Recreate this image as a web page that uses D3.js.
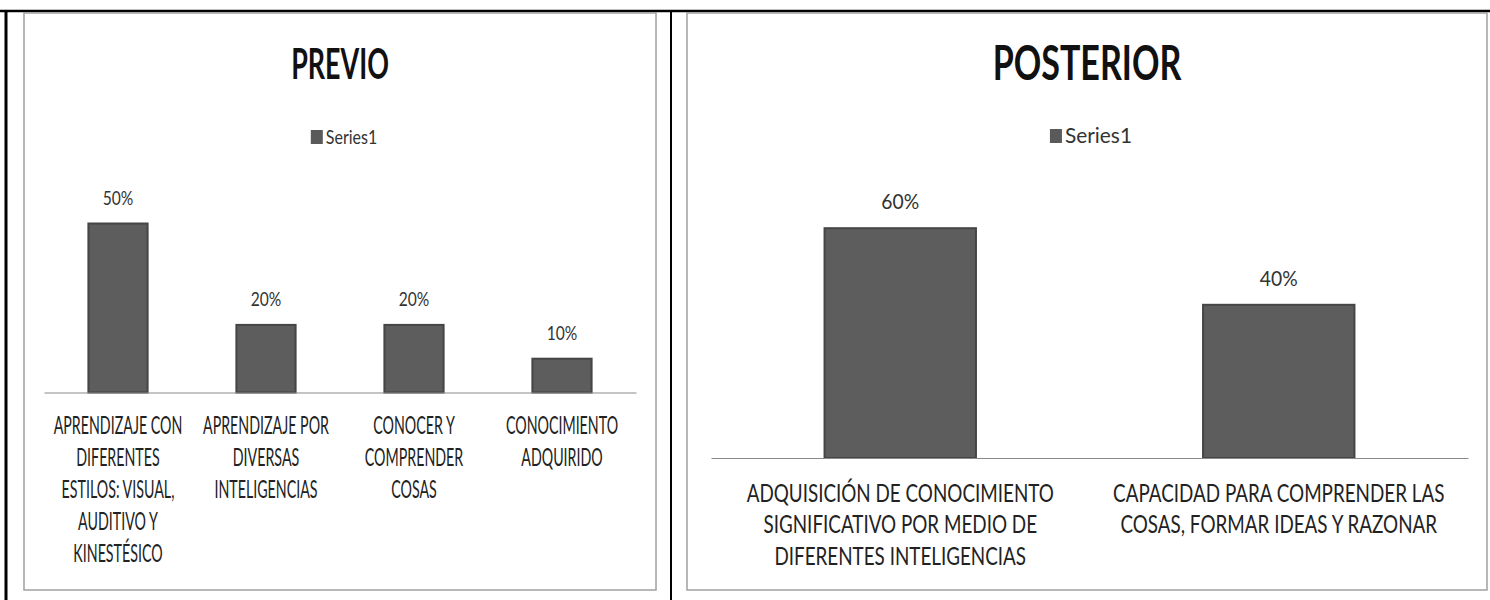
<!DOCTYPE html>
<html>
<head>
<meta charset="utf-8">
<script src="https://cdn.jsdelivr.net/npm/d3@7"></script>
<style>
  body { margin: 0; background: #fff; }
  svg { display: block; font-family: Lato, "Open Sans", sans-serif; }
</style>
</head>
<body>
<svg width="1490" height="600"></svg>
<script>
// data
var prevCategories = [
  "APRENDIZAJE CON DIFERENTES ESTILOS: VISUAL, AUDITIVO Y KINESTÉSICO",
  "APRENDIZAJE POR DIVERSAS INTELIGENCIAS",
  "CONOCER Y COMPRENDER COSAS",
  "CONOCIMIENTO ADQUIRIDO"
];
var prevValues = [0.5, 0.2, 0.2, 0.1];

var postCategories = [
  "ADQUISICIÓN DE CONOCIMIENTO SIGNIFICATIVO POR MEDIO DE DIFERENTES INTELIGENCIAS",
  "CAPACIDAD PARA COMPRENDER LAS COSAS, FORMAR IDEAS Y RAZONAR"
];
var postValues = [0.6, 0.4];

var seriesName = "Series1";

var svg = d3.select("svg");
var pct = d3.format(".0%");

// page frame (black rules of the table the charts sit in)
svg.append("line").attr("x1", 0).attr("x2", 1490).attr("y1", 11).attr("y2", 11)
  .attr("stroke", "#000").attr("stroke-width", 2.5);
svg.append("line").attr("x1", 6).attr("x2", 6).attr("y1", 10).attr("y2", 600)
  .attr("stroke", "#000").attr("stroke-width", 3);
svg.append("line").attr("x1", 671).attr("x2", 671).attr("y1", 10).attr("y2", 600)
  .attr("stroke", "#000").attr("stroke-width", 2);

// the scanned charts are squeezed sideways, hence the x-scales on text
var panels = [
  {
    title: "PREVIO", cats: prevCategories, vals: prevValues,
    box: [24, 13, 632, 577], xRange: [44, 636], base: 392.5, perUnit: 338,
    titleY: 79, titleSize: 42, titleSx: 0.64,
    legendY: 144, legendSize: 20, legendSx: 0.8,
    labelSize: 20, labelSx: 0.78,
    catSize: 25, catSx: 0.57, catY: 41.5, lineH: 32, wrapFrac: 0.92
  },
  {
    title: "POSTERIOR", cats: postCategories, vals: postValues,
    box: [687, 13, 800, 577], xRange: [711, 1468], base: 458, perUnit: 383,
    titleY: 80, titleSize: 47, titleSx: 0.725,
    legendY: 143, legendSize: 22, legendSx: 0.95,
    labelSize: 21, labelSx: 0.92,
    catSize: 26, catSx: 0.725, catY: 44, lineH: 31.5, wrapFrac: 0.92
  }
];

panels.forEach(drawPanel);

function drawPanel(p) {
  var g = svg.append("g");
  var cx = p.box[0] + p.box[2] / 2;

  g.append("rect")
    .attr("x", p.box[0]).attr("y", p.box[1])
    .attr("width", p.box[2]).attr("height", p.box[3])
    .attr("fill", "#fff").attr("stroke", "#a0a0a0").attr("stroke-width", 1.5);

  var x = d3.scaleBand()
    .domain(p.cats)
    .range(p.xRange)
    .paddingInner(0.6)
    .paddingOuter(0.3);

  var y = d3.scaleLinear()
    .domain([0, 0.6])
    .range([p.base, p.base - 0.6 * p.perUnit]);

  // title
  g.append("text")
    .attr("transform", "translate(" + cx + "," + p.titleY + ") scale(" + p.titleSx + ",1)")
    .attr("text-anchor", "middle")
    .attr("font-weight", "bold")
    .attr("font-size", p.titleSize)
    .attr("fill", "#111")
    .text(p.title);

  // legend
  var lg = g.append("g").attr("transform", "translate(" + (cx + 4) + "," + p.legendY + ")");
  var lt = lg.append("text")
    .attr("font-size", p.legendSize)
    .attr("fill", "#333")
    .text(seriesName);
  var lw = lt.node().getComputedTextLength() * p.legendSx;
  var total = lw + 15;
  lg.append("rect")
    .attr("x", -total / 2).attr("y", -14)
    .attr("width", 12).attr("height", 14)
    .attr("fill", "#5a5a5a");
  lt.attr("transform", "translate(" + (-total / 2 + 15) + ",0) scale(" + p.legendSx + ",1)");

  // bars
  g.selectAll(".bar")
    .data(p.vals)
    .enter().append("rect")
      .attr("class", "bar")
      .attr("x", function(d, i) { return x(p.cats[i]); })
      .attr("y", function(d) { return y(d); })
      .attr("width", x.bandwidth())
      .attr("height", function(d) { return y(0) - y(d); })
      .attr("fill", "#5d5d5d")
      .attr("stroke", "#454545")
      .attr("stroke-width", 2);

  // data labels
  g.selectAll(".lbl")
    .data(p.vals)
    .enter().append("text")
      .attr("class", "lbl")
      .attr("transform", function(d, i) {
        return "translate(" + (x(p.cats[i]) + x.bandwidth() / 2) + "," + (y(d) - 19) + ") scale(" + p.labelSx + ",1)";
      })
      .attr("text-anchor", "middle")
      .attr("font-size", p.labelSize)
      .attr("fill", "#333")
      .text(function(d) { return pct(d); });

  // category axis
  var axis = g.append("g")
    .attr("transform", "translate(0," + p.base + ")")
    .call(d3.axisBottom(x).tickSize(0).tickSizeOuter(0));

  axis.select(".domain").attr("stroke", "#8a8a8a").attr("stroke-width", 1.2);
  axis.selectAll(".tick text")
    .attr("font-family", "Lato, 'Open Sans', sans-serif")
    .attr("font-size", p.catSize)
    .attr("fill", "#222")
    .attr("transform", "scale(" + p.catSx + ",1)")
    .call(wrap, x.step() * p.wrapFrac / p.catSx, p.catY, p.lineH);
}

function wrap(texts, width, y0, lineH) {
  texts.each(function() {
    var text = d3.select(this),
      words = text.text().split(/\s+/),
      line = [],
      lineNo = 0,
      tspan = text.text(null).attr("y", y0).attr("dy", null)
        .append("tspan").attr("x", 0).attr("y", y0);
    words.forEach(function(word) {
      line.push(word);
      tspan.text(line.join(" "));
      if (tspan.node().getComputedTextLength() > width && line.length > 1) {
        line.pop();
        tspan.text(line.join(" "));
        line = [word];
        lineNo++;
        tspan = text.append("tspan").attr("x", 0).attr("y", y0 + lineNo * lineH).text(word);
      }
    });
  });
}
</script>
</body>
</html>
